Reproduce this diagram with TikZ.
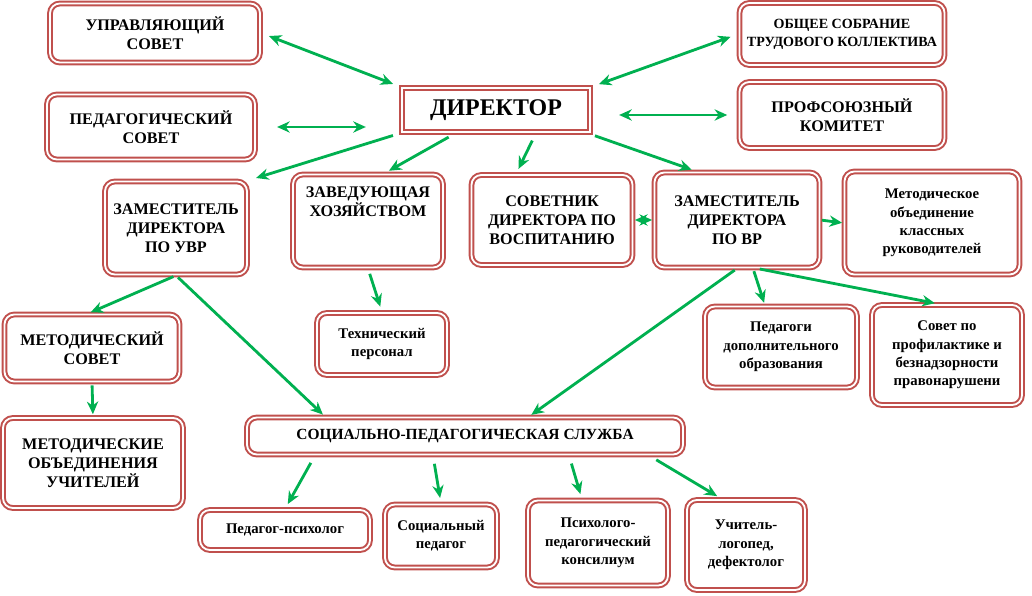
\documentclass[tikz,border=0pt]{standalone}
\usepackage{fontspec}
\setmainfont{Liberation Serif}
\usetikzlibrary{arrows.meta}
\definecolor{boxred}{HTML}{C0504D}
\definecolor{arrgreen}{HTML}{00B050}
\begin{document}
\begin{tikzpicture}[x=0.025cm,y=-0.025cm]
    \tikzstyle{unit}=[draw=boxred,double=white,line width=1.4pt,double distance=1.3pt,rounded corners=7pt,fill=white,align=center,inner sep=2pt,font=\bfseries\fontsize{11.5}{13.5}\selectfont]
    \tikzstyle{small unit}=[unit,font=\bfseries\fontsize{10.5}{13}\selectfont]
    \tikzstyle{arr}=[draw=arrgreen,line width=2pt,-{Stealth[length=9pt,width=8pt]},shorten >=6pt,shorten <=6pt]
    \tikzstyle{darr}=[arr,{Stealth[length=9pt,width=8pt]}-{Stealth[length=9pt,width=8pt]}]
    \useasboundingbox (0,0) rectangle (1032,596);

    %top level
    \node[unit,minimum width=188*0.025cm,minimum height=44*0.025cm,rounded corners=0pt,font=\bfseries\fontsize{17}{20}\selectfont] (dir) at (496,110) {ДИРЕКТОР};
    \node[unit,minimum width=210*0.025cm,minimum height=59*0.025cm] (upr) at (155,33) {УПРАВЛЯЮЩИЙ\\СОВЕТ};
    \node[unit,minimum width=208*0.025cm,minimum height=65*0.025cm] (ped) at (151,127) {ПЕДАГОГИЧЕСКИЙ\\СОВЕТ};
    \node[unit,minimum width=205*0.025cm,minimum height=62*0.025cm,font=\bfseries\fontsize{10}{13}\selectfont] (obsh) at (842,34) {ОБЩЕЕ СОБРАНИЕ\\ТРУДОВОГО КОЛЛЕКТИВА};
    \node[unit,minimum width=205*0.025cm,minimum height=66*0.025cm] (prof) at (842,115) {ПРОФСОЮЗНЫЙ\\КОМИТЕТ};

    %second level
    \node[unit,minimum width=142*0.025cm,minimum height=93*0.025cm] (zuvr) at (176,228) {ЗАМЕСТИТЕЛЬ\\ДИРЕКТОРА\\ПО УВР};
    \node[unit,minimum width=150*0.025cm,minimum height=93*0.025cm] (zav) at (368,221) {ЗАВЕДУЮЩАЯ\\ХОЗЯЙСТВОМ\\[14pt]};
    \node[unit,minimum width=161*0.025cm,minimum height=90*0.025cm] (sov) at (552,220) {СОВЕТНИК\\ДИРЕКТОРА ПО\\ВОСПИТАНИЮ};
    \node[unit,minimum width=165*0.025cm,minimum height=95*0.025cm] (zvr) at (737,220) {ЗАМЕСТИТЕЛЬ\\ДИРЕКТОРА\\ПО ВР};
    \node[small unit,minimum width=175*0.025cm,minimum height=103*0.025cm] (mok) at (932,223) {Методическое\\объединение\\классных\\руководителей};

    %third level
    \node[unit,minimum width=175*0.025cm,minimum height=67*0.025cm] (msov) at (92,348) {МЕТОДИЧЕСКИЙ\\СОВЕТ};
    \node[small unit,minimum width=130*0.025cm,minimum height=62*0.025cm] (tech) at (382,344) {Технический\\персонал};
    \node[small unit,minimum width=152*0.025cm,minimum height=81*0.025cm] (pdo) at (781,347) {Педагоги\\дополнительного\\образования};
    \node[small unit,minimum width=150*0.025cm,minimum height=100*0.025cm] (prf) at (947,355) {Совет по\\профилактике и\\безнадзорности\\правонарушени};
    \node[unit,minimum width=180*0.025cm,minimum height=90*0.025cm] (mou) at (93,463) {МЕТОДИЧЕСКИЕ\\ОБЪЕДИНЕНИЯ\\УЧИТЕЛЕЙ};
    \node[unit,minimum width=436*0.025cm,minimum height=37*0.025cm,font=\bfseries\fontsize{11}{13}\selectfont] (sps) at (465,436) {СОЦИАЛЬНО-ПЕДАГОГИЧЕСКАЯ СЛУЖБА};

    %bottom level
    \node[small unit,minimum width=170*0.025cm,minimum height=40*0.025cm] (psy) at (285,530) {Педагог-психолог};
    \node[small unit,minimum width=112*0.025cm,minimum height=63*0.025cm] (soc) at (441,536) {Социальный\\педагог};
    \node[small unit,minimum width=140*0.025cm,minimum height=85*0.025cm] (ppk) at (598,543) {Психолого-\\педагогический\\консилиум};
    \node[small unit,minimum width=118*0.025cm,minimum height=90*0.025cm] (log) at (746,545) {Учитель-\\логопед,\\дефектолог};

    %links
    \draw[darr] (upr.east) -- (dir.north west);
    \draw[darr,shorten <=15pt,shorten >=25pt] (ped.east) -- (ped.east -| dir.west);
    \draw[darr] (obsh.west) -- (dir.north east);
    \draw[darr,shorten <=8pt,shorten >=20pt] (prof.west) -- (prof.west -| dir.east);
    \draw[arr] (dir.south west) -- (zuvr.north east);
    \draw[arr,shorten >=4pt] ([xshift=-1cm]dir.south) -- ([xshift=0.4cm]zav.north);
    \draw[arr,shorten >=4pt] ([xshift=1cm]dir.south) -- ([xshift=-0.9cm]sov.north);
    \draw[arr,shorten >=4pt] ([xshift=-0.1cm]dir.south east) -- ([xshift=-1cm]zvr.north);
    \draw[darr,shorten <=1pt,shorten >=1pt,line width=1.5pt] (sov.east) -- (zvr.west);
    \draw[arr,shorten <=1pt,shorten >=1pt] (zvr.east) -- (mok.west);
    \draw[arr,shorten >=2pt,shorten <=2pt] (zuvr.south) -- ([xshift=-0.1cm]msov.north);
    \draw[arr,shorten >=2pt,shorten <=2pt] (zuvr.south) -- ([xshift=-3.5cm]sps.north);
    \draw[arr,shorten >=4pt,shorten <=4pt] (zav.south) -- (tech.north);
    \draw[arr,shorten >=2pt,shorten <=2pt] (zvr.south) -- ([xshift=1.6cm]sps.north);
    \draw[arr,shorten >=2pt,shorten <=2pt] ([xshift=0.4cm]zvr.south) -- ([xshift=-0.4cm]pdo.north);
    \draw[arr,shorten >=3pt,shorten <=2pt] ([xshift=0.5cm]zvr.south) -- ([xshift=-0.2cm]prf.north);
    \draw[arr,shorten >=2pt,shorten <=2pt] (msov.south) -- (mou.north);
    \draw[arr,shorten >=4pt] ([xshift=-3.75cm]sps.south) -- (psy.north);
    \draw[arr,shorten >=4pt] ([xshift=-0.8cm]sps.south) -- (soc.north);
    \draw[arr,shorten >=4pt] ([xshift=2.6cm]sps.south) -- ([xshift=-0.4cm]ppk.north);
    \draw[arr,shorten >=4pt] ([xshift=4.6cm]sps.south) -- ([xshift=-0.6cm]log.north);
\end{tikzpicture}
\end{document}
